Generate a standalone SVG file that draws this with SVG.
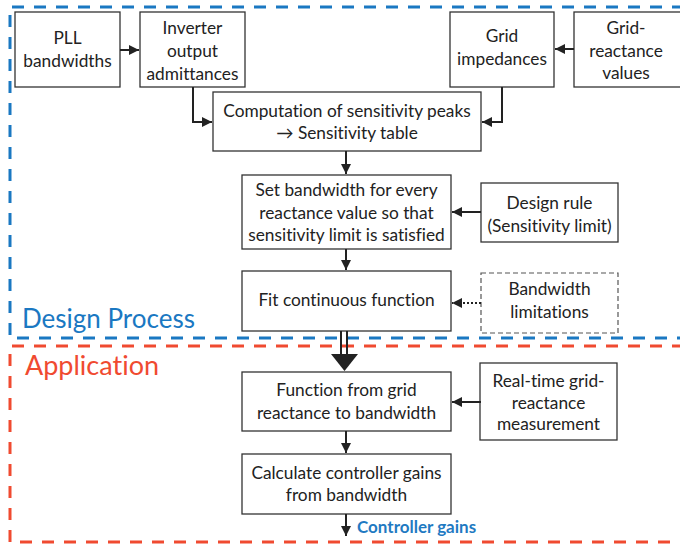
<svg xmlns="http://www.w3.org/2000/svg" width="680" height="545" viewBox="0 0 680 545">
<defs>
<marker id="ah" viewBox="0 0 10 10" refX="10" refY="5" markerWidth="5" markerHeight="5" markerUnits="strokeWidth" orient="auto">
<path d="M0,0 L10,5 L0,10 z" fill="#222"/>
</marker>
<style>
text{font-variant-ligatures:none}
.box{fill:#fff;stroke:#333;stroke-width:1.3}
.dbox{fill:#fff;stroke:#555;stroke-width:1.2;stroke-dasharray:5,3}
.t{font-family:Lato,"Liberation Sans",sans-serif;font-size:17.3px;fill:#222;text-anchor:middle}
.c{fill:none;stroke:#222;stroke-width:2}
</style>
</defs>
<rect width="680" height="545" fill="#fff"/>
<g id="regions">
<path d="M684,7 L10,7 L10,338 L684,338" fill="none" stroke="#1a78c2" stroke-width="3" stroke-dasharray="12,10"/>
<path d="M684,346 L10,346 L10,542 L684,542" fill="none" stroke="#f04a30" stroke-width="3" stroke-dasharray="12,10"/>
<text x="22" y="328" font-family="Lato,'Liberation Sans',sans-serif" font-size="26" fill="#1a78c2">Design Process</text>
<text x="25" y="375" font-family="Lato,'Liberation Sans',sans-serif" font-size="27" fill="#f04a30">Application</text>
</g>
<g id="n-pll"><rect class="box" x="15" y="12" width="105" height="75"/><text class="t" x="67.5" y="44">PLL</text><text class="t" x="67.5" y="67">bandwidths</text></g>
<g id="n-inv"><rect class="box" x="140" y="12" width="105" height="75"/><text class="t" x="192.5" y="34">Inverter</text><text class="t" x="192.5" y="57">output</text><text class="t" x="192.5" y="80">admittances</text></g>
<g id="n-gimp"><rect class="box" x="450" y="12" width="104" height="75"/><text class="t" x="502" y="42">Grid</text><text class="t" x="502" y="65">impedances</text></g>
<g id="n-grv"><rect class="box" x="574" y="12" width="110" height="75"/><text class="t" x="626" y="34">Grid-</text><text class="t" x="626" y="57">reactance</text><text class="t" x="626" y="79">values</text></g>
<g id="n-comp"><rect class="box" x="213" y="92" width="268" height="59"/><text class="t" x="347" y="117">Computation of sensitivity peaks</text><text class="t" x="347" y="139">→ Sensitivity table</text></g>
<g id="n-set"><rect class="box" x="242" y="175" width="209" height="74"/><text class="t" x="346.5" y="196">Set bandwidth for every</text><text class="t" x="346.5" y="219">reactance value so that</text><text class="t" x="346.5" y="241">sensitivity limit is satisfied</text></g>
<g id="n-rule"><rect class="box" x="481" y="183" width="137" height="59"/><text class="t" x="549.5" y="209">Design rule</text><text class="t" x="549.5" y="232">(Sensitivity limit)</text></g>
<g id="n-fit"><rect class="box" x="242" y="271" width="209" height="60"/><text class="t" x="346.5" y="306">Fit continuous function</text></g>
<g id="n-bwl"><rect class="dbox" x="481" y="273" width="137" height="60"/><text class="t" x="549.5" y="295">Bandwidth</text><text class="t" x="549.5" y="318">limitations</text></g>
<g id="n-func"><rect class="box" x="242" y="372" width="209" height="59"/><text class="t" x="346.5" y="396">Function from grid</text><text class="t" x="346.5" y="419">reactance to bandwidth</text></g>
<g id="n-rt"><rect class="box" x="480" y="363" width="137" height="77"/><text class="t" x="548.5" y="387">Real-time grid-</text><text class="t" x="548.5" y="409">reactance</text><text class="t" x="548.5" y="430">measurement</text></g>
<g id="n-calc"><rect class="box" x="242" y="454" width="209" height="60"/><text class="t" x="346.5" y="479">Calculate controller gains</text><text class="t" x="346.5" y="501">from bandwidth</text></g>
<g id="n-out"><text x="357" y="533" font-family="Lato,'Liberation Sans',sans-serif" font-size="17" font-weight="bold" fill="#1f7ac2">Controller gains</text></g>
<g id="connectors">
<path class="c" d="M120,50 L139,50" marker-end="url(#ah)"/>
<path class="c" d="M193,87 L193,122 L212,122" marker-end="url(#ah)"/>
<path class="c" d="M574,49 L555,49" marker-end="url(#ah)"/>
<path class="c" d="M502,87 L502,122 L482,122" marker-end="url(#ah)"/>
<path class="c" d="M346,151 L346,174" marker-end="url(#ah)"/>
<path class="c" d="M481,212 L452,212" marker-end="url(#ah)"/>
<path class="c" d="M346,249 L346,270" marker-end="url(#ah)"/>
<path class="c" d="M481,303 L452,303" stroke-dasharray="2,2" marker-end="url(#ah)"/>
<path d="M341,331 L341,355 M347,331 L347,355" fill="none" stroke="#222" stroke-width="2"/>
<path d="M331,354 L358,354 L344.5,371 z" fill="#222"/>
<path class="c" d="M481,402 L452,402" marker-end="url(#ah)"/>
<path class="c" d="M346,431 L346,453" marker-end="url(#ah)"/>
<path class="c" d="M346,514 L346,536" marker-end="url(#ah)"/>
</g>
</svg>
